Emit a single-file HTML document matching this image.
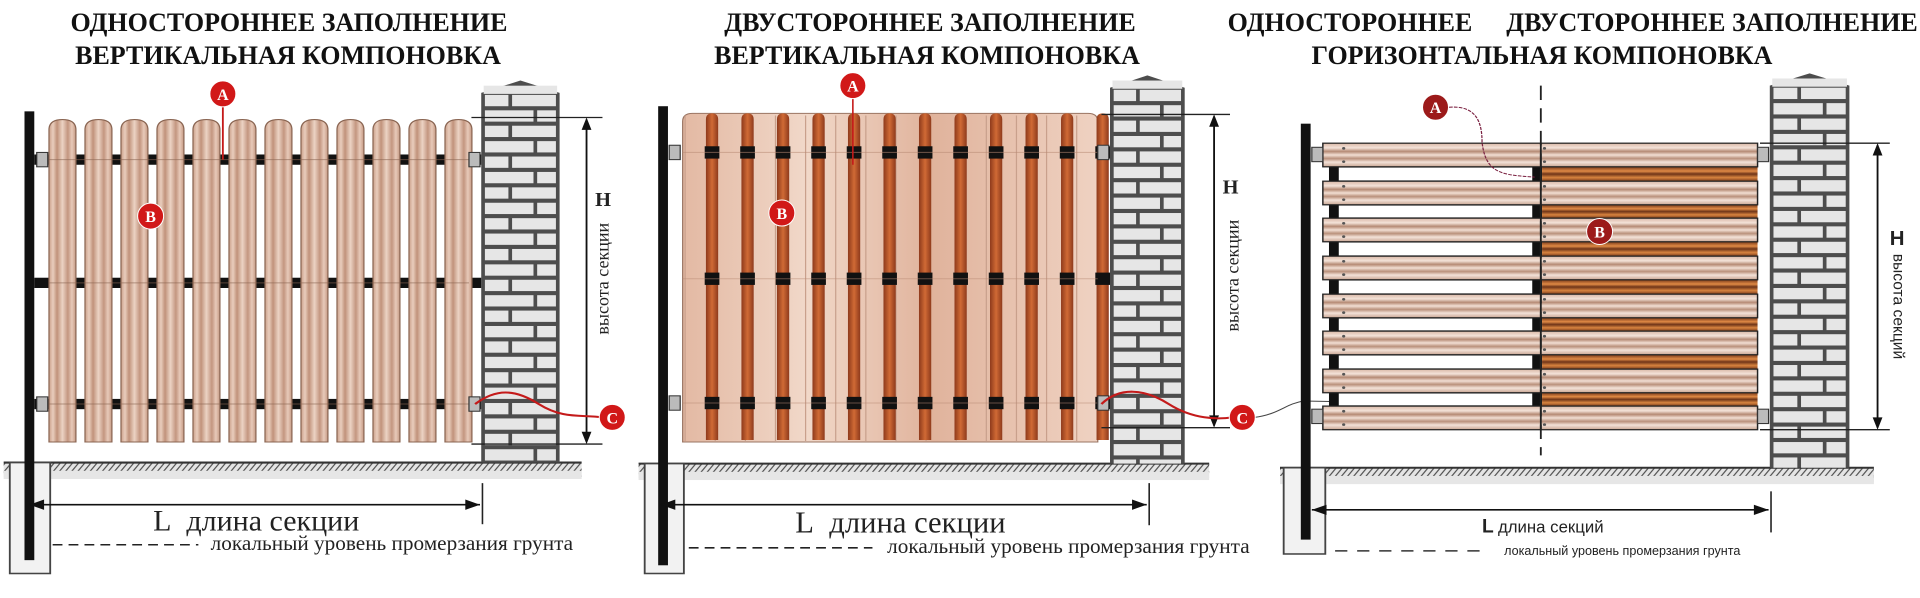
<!DOCTYPE html>
<html><head><meta charset="utf-8"><style>
html,body{margin:0;padding:0;background:#fff;width:1920px;height:598px;overflow:hidden}
svg{display:block}
.t{font-family:"Liberation Serif","DejaVu Serif",serif;font-weight:bold;font-size:26px;fill:#111}
.s{font-family:"Liberation Serif",serif;fill:#222}
.ss{font-family:"Liberation Sans",sans-serif;fill:#222}
.m{font-family:"Liberation Serif",serif;font-weight:bold;fill:#fff;font-size:16px}
</style></head><body>
<svg id="sv" width="1920" height="598" viewBox="0 0 1920 598" xmlns="http://www.w3.org/2000/svg">
<defs>
<linearGradient id="pk" x1="0" x2="1" y1="0" y2="0">
<stop offset="0" stop-color="#caa08a"/><stop offset=".15" stop-color="#e9cdbd"/><stop offset=".3" stop-color="#c0927a"/><stop offset=".5" stop-color="#ecd3c4"/><stop offset=".7" stop-color="#c39680"/><stop offset=".85" stop-color="#e8cab9"/><stop offset="1" stop-color="#c49883"/>
</linearGradient>
<linearGradient id="pk2" x1="0" x2="1" y1="0" y2="0">
<stop offset="0" stop-color="#e3b9a3"/><stop offset=".3" stop-color="#f1d8c9"/><stop offset=".6" stop-color="#e0b39c"/><stop offset="1" stop-color="#efd2c2"/>
</linearGradient>
<linearGradient id="dk" x1="0" x2="1" y1="0" y2="0">
<stop offset="0" stop-color="#8e3a1c"/><stop offset=".5" stop-color="#d06a35"/><stop offset="1" stop-color="#8e3a1c"/>
</linearGradient>
<linearGradient id="hb" x1="0" x2="0" y1="0" y2="1">
<stop offset="0" stop-color="#d9b7a6"/><stop offset=".2" stop-color="#f3e2d8"/><stop offset=".35" stop-color="#b58a74"/><stop offset=".5" stop-color="#f2dfd4"/><stop offset=".65" stop-color="#b9907b"/><stop offset=".8" stop-color="#f3e2d8"/><stop offset="1" stop-color="#c9a592"/>
</linearGradient>
<linearGradient id="ho" x1="0" x2="0" y1="0" y2="1">
<stop offset="0" stop-color="#7a3a1a"/><stop offset=".3" stop-color="#e08a45"/><stop offset=".5" stop-color="#6e3418"/><stop offset=".75" stop-color="#d8843f"/><stop offset="1" stop-color="#7a3a1a"/>
</linearGradient>
<pattern id="hat" width="5" height="10" patternUnits="userSpaceOnUse" patternTransform="skewX(-35)">
<rect width="5" height="10" fill="#e4e4e4"/><line x1="1" y1="0" x2="1" y2="10" stroke="#555" stroke-width="1.3"/>
</pattern>
</defs>
<g id="g"></g>
<text class="t" x="289" y="31" text-anchor="middle">ОДНОСТОРОННЕЕ ЗАПОЛНЕНИЕ</text>
<text class="t" x="288" y="64" text-anchor="middle">ВЕРТИКАЛЬНАЯ КОМПОНОВКА</text>
<text class="t" x="930" y="31" text-anchor="middle">ДВУСТОРОННЕЕ ЗАПОЛНЕНИЕ</text>
<text class="t" x="927" y="64" text-anchor="middle">ВЕРТИКАЛЬНАЯ КОМПОНОВКА</text>
<text class="t" x="1350" y="31" text-anchor="middle">ОДНОСТОРОННЕЕ</text>
<text class="t" x="1712" y="31" text-anchor="middle">ДВУСТОРОННЕЕ ЗАПОЛНЕНИЕ</text>
<text class="t" x="1542" y="64" text-anchor="middle">ГОРИЗОНТАЛЬНАЯ КОМПОНОВКА</text>
</svg>
<script>
var g=document.getElementById('g'),h='',h2='',PX=0,SX=1.2245,SY=1.027;
function fx(x){return PX+(x-PX)*SX;} function fy(y){return 60+(y-60)*SY;}
function R(x,y,w,hh,f,o){h+='<rect x="'+x+'" y="'+y+'" width="'+w+'" height="'+hh+'" fill="'+f+'" '+(o||'')+'/>';}
function L(x1,y1,x2,y2,c,w,o){h+='<line x1="'+x1+'" y1="'+y1+'" x2="'+x2+'" y2="'+y2+'" stroke="'+c+'" stroke-width="'+w+'" '+(o||'')+'/>';}
function T(x,y,s,cls,sz,o,rot){var X=fx(x),Y=fy(y);h2+='<text class="'+cls+'" x="'+X+'" y="'+Y+'" font-size="'+(sz*1.2)+'" '+(rot!==undefined?'transform="rotate('+rot+' '+X+' '+Y+')" ':'')+(o||'')+'>'+s+'</text>';}
function M(x,y,l,c){var X=fx(x),Y=fy(y);h2+='<circle cx="'+X+'" cy="'+Y+'" r="13" fill="'+(c||'#d11818')+'" stroke="#fff" stroke-width="1"/><text class="m" x="'+X+'" y="'+(Y+6)+'" text-anchor="middle">'+l+'</text>';}
function pillar(x,w,top,gy){
 h+='<path d="M'+x+' '+(top+12)+' L'+(x+w/2)+' '+top+' L'+(x+w)+' '+(top+12)+' L'+(x+w)+' '+gy+' L'+x+' '+gy+'Z" fill="#4d4d4d"/>';
 var r=0;for(var y=top+14;y<gy;y+=15,r++){
  var bh=Math.min(11,gy-y);if(bh<=0)break;
  if(r%2==0){R(x+3,y,w*0.3,bh,'#e6e6e6');R(x+w*0.3+6,y,w*0.7-9,bh,'#e6e6e6');}
  else{R(x+3,y,w*0.62,bh,'#e6e6e6');R(x+w*0.62+6,y,w*0.38-9,bh,'#e6e6e6');}
 }
 R(x+2,top+5,w-4,8,'#e6e6e6');
}
function ground(x1,x2,gy){R(x1,gy,x2-x1,14,'url(#hat)');R(x1,gy+8,x2-x1,8,'#e6e6e6');L(x1,gy,x2,gy,'#333',2);}
function found(x,y,w,hh){R(x,y,w,hh,'#f2f2f2','stroke="#444" stroke-width="1.5"');}
function hdim(x,y1,y2,xa,xb){L(xa,y1,xb,y1,'#222',1.3);L(xa,y2,xb,y2,'#222',1.3);L(x,y1+2,x,y2-2,'#111',1.5);
 h+='<path d="M'+x+' '+y1+' l-4 12 l8 0z M'+x+' '+y2+' l-4 -12 l8 0z" fill="#111"/>';}
function ldim(x1,x2,y,tk1,tk2){L(x1,y,x2,y,'#111',1.6);h+='<path d="M'+x1+' '+y+' l12 -5 l0 10z M'+x2+' '+y+' l-12 -5 l0 10z" fill="#111"/>';L(x2+2,tk1,x2+2,tk2,'#222',1.3);}
function bolt(x,y){R(x,y-7,9,14,'#bbb','stroke="#333" stroke-width="1"');}
var out='';
function flush(){out+='<g transform="translate('+PX+',60) scale('+SX+','+SY+') translate('+(-PX)+',-60)">'+h+'</g>'+h2;h='';h2='';}

/* ---------- Panel 1 ---------- */
PX=0;
ground(3,475,452);found(8,452,33,108);
pillar(393,64,80,452);
R(20,110,8,437,'#111');
[157,277,395].forEach(function(y){R(28,y-5,365,10,'#111');});
for(var i=0;i<12;i++){var x=40+i*29.4;h+='<path d="M'+x+' 432 L'+x+' 128 Q'+x+' 118 '+(x+11)+' 118 Q'+(x+22)+' 118 '+(x+22)+' 128 L'+(x+22)+' 432Z" fill="url(#pk)" stroke="#8a6552" stroke-width="1"/>';}
[157,277,395].forEach(function(y){L(40,y,383,y,'#8a6552',1,'opacity=".6"');});
bolt(30,157);bolt(30,395);bolt(383,157);bolt(383,395);
hdim(479,116,434,385,492);
h+='<path d="M388 395 C405 380,420 380,440 395 S475 405,492 408" fill="none" stroke="#c41a1a" stroke-width="2"/>';
L(182,103,182,157,'#c41a1a',1.5);
ldim(24,392,493,472,512);
L(43,532,162,532,'#222',1.5,'stroke-dasharray="8 5"');
T(486,202,'H','s',17,'font-weight="bold"');
T(497,273,'высота секции','s',15,'text-anchor="middle"',-90);
M(500,408,'C');M(182,93,'A');M(123,212,'B');
T(125,518,'L&#160; длина секции','s',25);
T(172,537,'локальный уровень промерзания грунта','s',17.7);
flush();

/* ---------- Panel 2 ---------- */
PX=630;
ground(637,1103,453);found(642,453,32,107);
pillar(1022,61,75,453);
R(653,105,8,447,'#111');
h+='<path d="M673 432 L673 120 Q673 112 681 112 L1004 112 Q1012 112 1012 120 L1012 432Z" fill="url(#pk2)" stroke="#9a7563" stroke-width="1"/>';
for(var i=0;i<14;i++){var x=675+i*24.6;L(x,114,x,431,'#c9a08c',1);}
for(var i=0;i<12;i++){var x=692+i*29;h+='<path d="M'+x+' 430 L'+x+' 118 Q'+x+' 112 '+(x+5)+' 112 Q'+(x+10)+' 112 '+(x+10)+' 118 L'+(x+10)+' 430Z" fill="url(#dk)"/>';}
[150,273,394].forEach(function(y){for(var i=0;i<12;i++)R(692+i*29-1,y-6,12,12,'#111');L(673,y,1012,y,'#b88a74',1,'opacity=".5"');});
bolt(662,150);bolt(662,394);bolt(1012,150);bolt(1012,394);
hdim(1107,113,418,1015,1120);
h+='<path d="M1015 395 C1030 378,1050 380,1070 395 S1110 410,1122 408" fill="none" stroke="#c41a1a" stroke-width="2"/>';
h+='<path d="M1140 408 C1160 405,1165 395,1180 392 L1310 395" fill="none" stroke="#444" stroke-width="1"/>';
L(812,95,812,162,'#c41a1a',1.3);
ldim(655,1052,493,472,513);
L(678,535,828,535,'#222',1.5,'stroke-dasharray="8 5"');
T(1114,190,'H','s',17,'font-weight="bold"');
T(1127,270,'высота секции','s',15,'text-anchor="middle"',-90);
M(1130,408,'C');M(812,85,'A');M(754,209,'B');
T(765,520,'L&#160; длина секции','s',25.5);
T(840,540,'локальный уровень промерзания грунта','s',17.7);
flush();

/* ---------- Panel 3 ---------- */
PX=1280;
ground(1280,1765,457);found(1283,457,34,84);
pillar(1680,65,73,457);
R(1297,122,8,405,'#111');
var bys=[141,178,214,251,288,324,361,397];
for(var k=0;k<7;k++){var gy=bys[k]+23,gh=bys[k+1]-gy;
 R(1322,gy,171,gh,'#fff','stroke="#111" stroke-width="1.5"');R(1320,gy,8,gh,'#111');R(1486,gy,8,gh,'#111');
 R(1494,gy,176,gh,'url(#ho)');}
bys.forEach(function(y){R(1315,y,355,23,'url(#hb)','stroke="#222" stroke-width="1.2"');
 [1322,1486].forEach(function(x){h+='<circle cx="'+(x+10)+'" cy="'+(y+5)+'" r="1.3" fill="#555"/><circle cx="'+(x+10)+'" cy="'+(y+18)+'" r="1.3" fill="#555"/>';});});
L(1493,85,1493,445,'#222',1.5,'stroke-dasharray="14 8"');
L(1493,141,1493,420,'#222',1.5);
bolt(1306,152);bolt(1306,407);bolt(1670,152);bolt(1670,407);
hdim(1768,141,420,1672,1778);
h+='<path d="M1418 106 C1440 104,1445 120,1445 140 C1448 170,1460 172,1488 174" fill="none" stroke="#7a2040" stroke-width="1" stroke-dasharray="3 1"/>';
ldim(1306,1679,498,480,520);
L(1325,538,1450,538,'#333',1.5,'stroke-dasharray="10 8"');
T(1778,240,'H','ss',17,'font-weight="bold"');
T(1781,300,'высота секций','ss',13,'text-anchor="middle"',90);
M(1407,106,'A','#9c1a1a');M(1541,227,'B','#9c1a1a');
T(1445,520,'L','ss',16,'font-weight="bold"');T(1458,520,'длина секций','ss',14);
T(1463,542,'локальный уровень промерзания грунта','ss',10.5);
flush();

g.innerHTML=out;
</script>
</body></html>
